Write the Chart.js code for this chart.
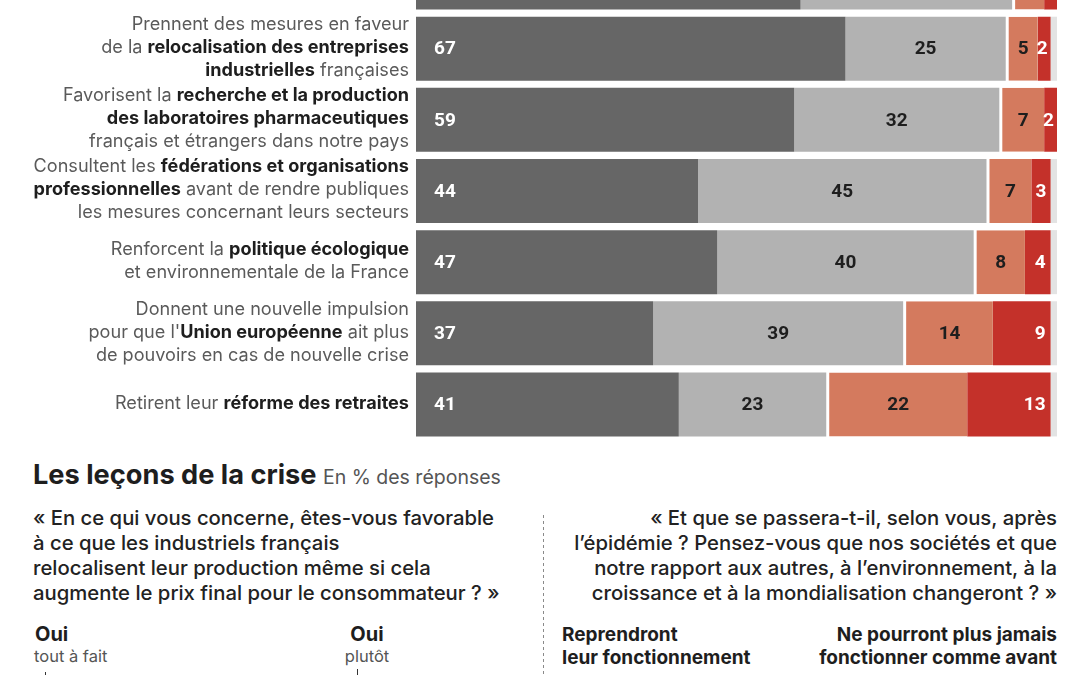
<!DOCTYPE html>
<html lang="fr">
<head>
<meta charset="utf-8">
<script src="https://cdn.jsdelivr.net/npm/chart.js@4.4.1/dist/chart.umd.min.js"></script>
<style>
  html, body { margin: 0; padding: 0; background: #fff; }
  body { width: 1080px; height: 675px; position: relative; overflow: hidden; font-family: Inter, "Noto Sans", sans-serif; color: #222; }
  #barsBox { position: absolute; left: 0; top: 0; width: 1080px; height: 441px; overflow: hidden; }
  #barsBox canvas { position: absolute; left: 0; top: -58px; }
  .t { position: absolute; white-space: nowrap; }
  .title { left: 33px; top: 460px; line-height: 30px; font-size: 27.2px; font-weight: 700; color: #1e1e1e; }
  .title span { font-size: 19.5px; font-weight: 400; color: #555; }
  .q { font-size: 20.3px; font-weight: 500; color: #222; line-height: 25px; }
  .ql { left: 33px; top: 505px; }
  .qr { right: 23px; top: 505px; text-align: right; }
  .lab { font-size: 19px; font-weight: 700; color: #1e1e1e; line-height: 23px; }
  .oui { font-size: 20px; font-weight: 700; color: #1e1e1e; line-height: 23px; }
  .sub { font-size: 16.5px; font-weight: 400; color: #555; line-height: 20px; }
  #sep { position: absolute; left: 543px; top: 515px; width: 1px; height: 160px;
         background: repeating-linear-gradient(to bottom, #8a8a8a 0 3px, transparent 3px 6px); }
  .tick { position: absolute; width: 1px; background: #333; }
</style>
</head>
<body>
<div id="barsBox"><canvas id="c" width="1080" height="498"></canvas></div>

<div class="t title">Les leçons de la crise <span>En % des réponses</span></div>
<div class="t q ql">« En ce qui vous concerne, êtes-vous favorable<br>à ce que les industriels français<br>relocalisent leur production même si cela<br>augmente le prix final pour le consommateur ? »</div>
<div class="t q qr">« Et que se passera-t-il, selon vous, après<br>l’épidémie ? Pensez-vous que nos sociétés et que<br>notre rapport aux autres, à l’environnement, à la<br>croissance et à la mondialisation changeront ? »</div>
<div id="sep"></div>

<div class="t oui" style="left:35px; top:623px;">Oui</div>
<div class="t sub" style="left:34px; top:646px;">tout à fait</div>
<div class="t oui" style="left:327px; top:623px; width:80px; text-align:center;">Oui</div>
<div class="t sub" style="left:327px; top:646px; width:80px; text-align:center;">plutôt</div>
<div class="tick" style="left:45px; top:672px; height:3px;"></div>
<div class="tick" style="left:357px; top:669px; height:6px;"></div>

<div class="t lab" style="left:562px; top:623px;">Reprendront<br>leur fonctionnement</div>
<div class="t lab" style="right:23px; top:623px; text-align:right;">Ne pourront plus jamais<br>fonctionner comme avant</div>

<script>
// ---- Data ----
const categories = [
  [''],
  ['Prennent des mesures en faveur', 'de la **relocalisation des entreprises**', '**industrielles** françaises'],
  ['Favorisent la **recherche et la production**', '**des laboratoires pharmaceutiques**', 'français et étrangers dans notre pays'],
  ['Consultent les **fédérations et organisations**', '**professionnelles** avant de rendre publiques', 'les mesures concernant leurs secteurs'],
  ['Renforcent la **politique écologique**', 'et environnementale de la France'],
  ['Donnent une nouvelle impulsion', "pour que l'**Union européenne** ait plus", 'de pouvoirs en cas de nouvelle crise'],
  ['Retirent leur **réforme des retraites**']
];
const ouiToutAFait   = [60, 67, 59, 44, 47, 37, 41];
const ouiPlutot      = [33, 25, 32, 45, 40, 39, 23];
const nonPlutotPas   = [5, 5, 7, 7, 8, 14, 22];
const nonPasDuTout   = [2, 2, 2, 3, 4, 9, 13];
const nsp            = [0, 1, 0, 1, 1, 1, 1];
const seriesNames = ['Oui, tout à fait', 'Oui, plutôt', 'Non, plutôt pas', 'Non, pas du tout', 'Ne se prononcent pas'];

const colors = ['#666666', '#b2b2b2', '#d47a5e', '#c4312a', '#e3e3e3'];

// ---- Plugins ----
const catLabels = {
  id: 'catLabels',
  afterDraw(chart) {
    const ctx = chart.ctx, y = chart.scales.y;
    const regular = '400 18.1px Inter, "Noto Sans", sans-serif';
    const bold = '700 18.1px Inter, "Noto Sans", sans-serif';
    const lh = 23, right = 409;
    ctx.save();
    ctx.textBaseline = 'middle';
    categories.forEach((lines, i) => {
      const cy = y.getPixelForValue(i) - 1;
      const top = cy - (lines.length - 1) * lh / 2;
      lines.forEach((line, li) => {
        const parts = line.split('**').map((t, k) => ({ t, b: k % 2 === 1 })).filter(p => p.t);
        let w = 0;
        parts.forEach(p => { ctx.font = p.b ? bold : regular; p.w = ctx.measureText(p.t).width; w += p.w; });
        let x = right - w;
        parts.forEach(p => {
          ctx.font = p.b ? bold : regular;
          ctx.fillStyle = p.b ? '#1e1e1e' : '#5a5a5a';
          ctx.textAlign = 'left';
          ctx.fillText(p.t, x, top + li * lh);
          x += p.w;
        });
      });
    });
    ctx.restore();
  }
};

const valueLabels = {
  id: 'valueLabels',
  afterDatasetsDraw(chart) {
    const ctx = chart.ctx;
    ctx.save();
    ctx.font = '700 19px Roboto, "Liberation Sans", sans-serif';
    ctx.textBaseline = 'middle';
    [0, 1, 2, 3].forEach(di => {
      const meta = chart.getDatasetMeta(di);
      const data = chart.data.datasets[di].data;
      meta.data.forEach((bar, i) => {
        const v = data[i];
        if (!v) return;
        const { x, base, y } = bar.getProps(['x', 'base', 'y'], true);
        const txt = String(v);
        const tw = ctx.measureText(txt).width;
        let tx, align;
        if (di === 0) { tx = base + 18; align = 'left'; ctx.fillStyle = '#ffffff'; }
        else if (di === 1) { tx = (base + x) / 2; align = 'center'; ctx.fillStyle = '#1e1e1e'; }
        else if (di === 2) { tx = (base + 3 + x) / 2; align = 'center'; ctx.fillStyle = '#1e1e1e'; }
        else {
          ctx.fillStyle = '#ffffff';
          if (x - base < tw + 10) { tx = Math.min((base + x) / 2, x - tw / 2 - 3); align = 'center'; }
          else { tx = x - 5; align = 'right'; }
        }
        ctx.textAlign = align;
        ctx.fillText(txt, tx, y + 1);
      });
    });
    ctx.restore();
  }
};

const seriesData = [ouiToutAFait, ouiPlutot, nonPlutotPas, nonPasDuTout, nsp];

new Chart(document.getElementById('c'), {
  type: 'bar',
  data: {
    labels: categories.map(l => l.join(' ').replace(/\*\*/g, '')),
    datasets: seriesData.map((d, k) => ({
      label: seriesNames[k],
      data: d,
      backgroundColor: colors[k],
      borderColor: '#ffffff',
      borderWidth: k === 2 ? { left: 3, right: 0, top: 0, bottom: 0 } : 0,
      borderSkipped: false,
      barPercentage: 0.9,
      categoryPercentage: 1.0
    }))
  },
  options: {
    indexAxis: 'y',
    responsive: false,
    animation: false,
    layout: { padding: { left: 416, right: 23, top: 0, bottom: 0 } },
    scales: {
      x: { stacked: true, min: 0, max: 100, display: false },
      y: { stacked: true, display: false }
    },
    plugins: { legend: { display: false }, tooltip: { enabled: false } }
  },
  plugins: [catLabels, valueLabels]
});
</script>
</body>
</html>
